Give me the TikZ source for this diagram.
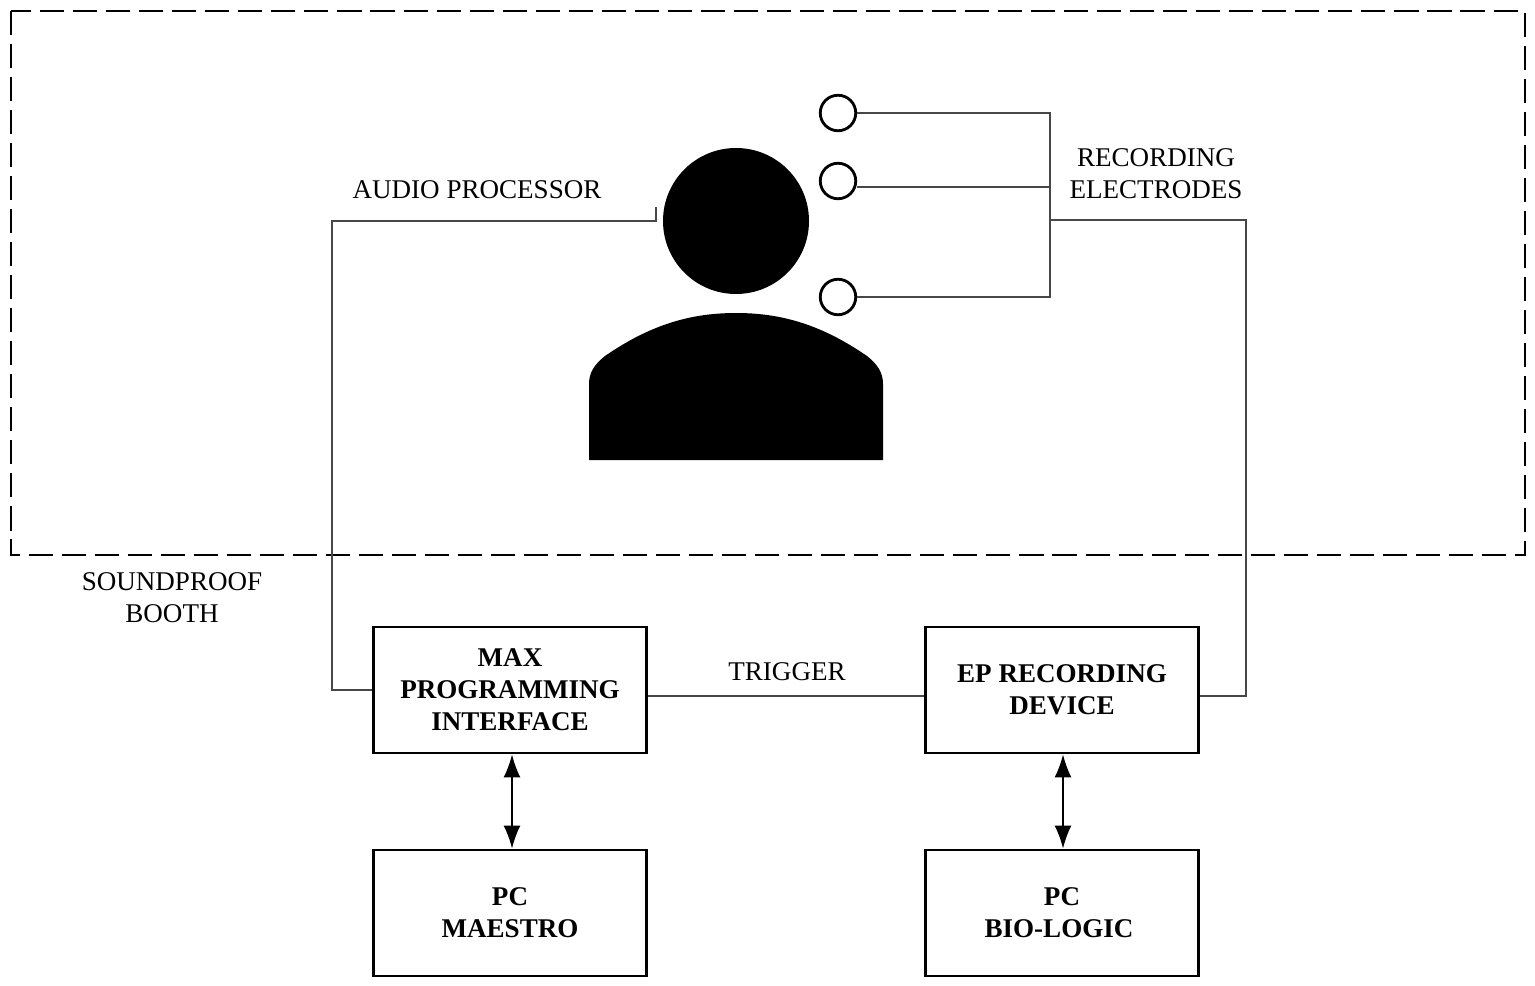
\documentclass[tikz,border=0pt]{standalone}
\usepackage{fontspec}
\setmainfont{Liberation Serif}
\usetikzlibrary{arrows.meta,calc}
\tikzset{
	box/.style={draw, line width=1.6pt, minimum width=5.46cm, minimum height=2.52cm, inner sep=0, align=center, font=\fontsize{15.4}{18.2}\selectfont\bfseries},
	lab/.style={inner sep=0, align=center, font=\fontsize{15.4}{18.2}\selectfont},
	electrode/.style={draw, circle, fill=white, line width=1.6pt, minimum size=0.71cm, inner sep=0},
	wire/.style={draw=black!72, line width=1pt},
	link/.style={line width=1pt, {Latex[length=4.6mm,width=3.4mm]}-{Latex[length=4.6mm,width=3.4mm]}}
}
\begin{document}
\begin{tikzpicture}[x=0.02cm,y=-0.02cm]
	\useasboundingbox (0,0) rectangle (1535,986);
	% booth
	\draw[line width=1.5pt, dash pattern=on 13.7pt off 5.1pt] (11,11) rectangle (1525,555);
	\node[lab] (booth) at (172,598) {SOUNDPROOF\\BOOTH};
	% person
	\fill (736,221) circle (73);
	\fill (589,460) -- (589,384) .. controls (589,372) and (595,364) .. (605,356) .. controls (650,325) and (690,313) .. (736,313) .. controls (782,313) and (822,325) .. (867,356) .. controls (877,364) and (883,372) .. (883,384) -- (883,460) -- cycle;
	\coordinate (ear) at (656,207);
	% electrodes
	\node[electrode] (e1) at (838,113) {};
	\node[electrode] (e2) at (838,181) {};
	\node[electrode] (e3) at (838,297) {};
	\coordinate (bus1) at (1050,113);
	\coordinate (bus3) at (1050,297);
	\coordinate (bus4) at (1050,220);
	\draw[wire] (e1) -- (bus1) -- (bus3) -- (e3);
	\draw[wire] (e2.east) ++(0,6) -- (1050,187);
	\node[lab] (aud) at (477,190) {AUDIO PROCESSOR};
	\node[lab] (rec) at (1156,174) {RECORDING\\ELECTRODES};
	% boxes
	\node[box] (max) at (510,690) {MAX\\PROGRAMMING\\INTERFACE};
	\node[box] (ep) at (1062,690) {EP RECORDING\\DEVICE};
	\node[box] (maestro) at (510,913) {PC\\MAESTRO};
	\node[box] (bio) at (1062,913) {PC\\BIO-LOGIC\hspace*{3.4pt}};
	\node[lab] (trig) at (787,672) {TRIGGER};
	% wires
	\draw[wire] (ear) |- (332,221) |- (max.west);
	\draw[wire] (bus4) -| (1246,696) -- (ep.east |- 0,696);
	\draw[wire] (max.east |- 0,696) -- (ep.west |- 0,696);
	\draw[link] (max.south -| 512,0) -- (maestro.north -| 512,0);
	\draw[link] (ep.south -| 1063,0) -- (bio.north -| 1063,0);
\end{tikzpicture}
\end{document}
